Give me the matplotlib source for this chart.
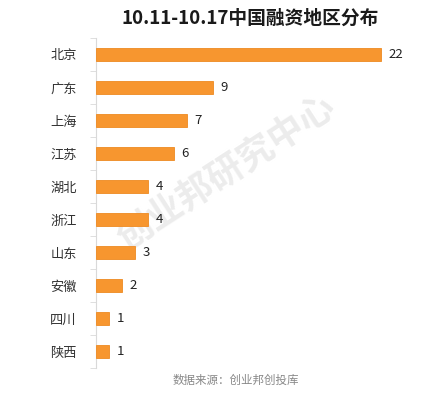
import matplotlib
matplotlib.use("Agg")
import matplotlib.pyplot as plt

plt.rcParams["font.family"] = ["Noto Sans CJK SC", "DejaVu Sans"]

regions = ["北京", "广东", "上海", "江苏", "湖北", "浙江", "山东", "安徽", "四川", "陕西"]
counts = [22, 9, 7, 6, 4, 4, 3, 2, 1, 1]

fig = plt.figure(figsize=(4.45, 3.95), dpi=100)
ax = fig.add_axes([0.216, 0.068, 0.728, 0.836])

y = list(range(len(regions)))
ax.barh(y, counts, height=0.4, color="#F7962F", edgecolor="#EE8A22", linewidth=0.6, zorder=3)
ax.set_ylim(len(regions) - 0.5, -0.5)
ax.set_xlim(0, 25)

ax.set_yticks(y)
ax.set_yticklabels(regions, fontsize=9.5, color="#333333")
ax.set_yticks([i - 0.5 for i in range(len(regions) + 1)], minor=True)
ax.tick_params(axis="y", which="major", length=0, pad=14)
ax.tick_params(axis="y", which="minor", length=4, color="#d9d9d9", direction="out")
ax.set_xticks([])
for s in ["top", "right", "bottom"]:
    ax.spines[s].set_visible(False)
ax.spines["left"].set_color("#d9d9d9")

for yi, v in zip(y, counts):
    ax.text(v + 0.6, yi, str(v), va="center", ha="left", fontsize=9.5, color="#222222", zorder=4)

# watermark behind the bars
ax.text(0.51, 0.56, "创业邦研究中心", transform=fig.transFigure, ha="center", va="center",
        rotation=33, fontsize=26, fontweight="bold", color="#ececec", zorder=1)

fig.text(0.562, 0.955, "10.11-10.17中国融资地区分布", ha="center", va="center",
         fontsize=13.5, fontweight="bold", color="#1a1a1a")
fig.text(0.53, 0.038, "数据来源：创业邦创投库", ha="center", va="center",
         fontsize=8.3, color="#888888")

fig.savefig("out.png", dpi=100)
